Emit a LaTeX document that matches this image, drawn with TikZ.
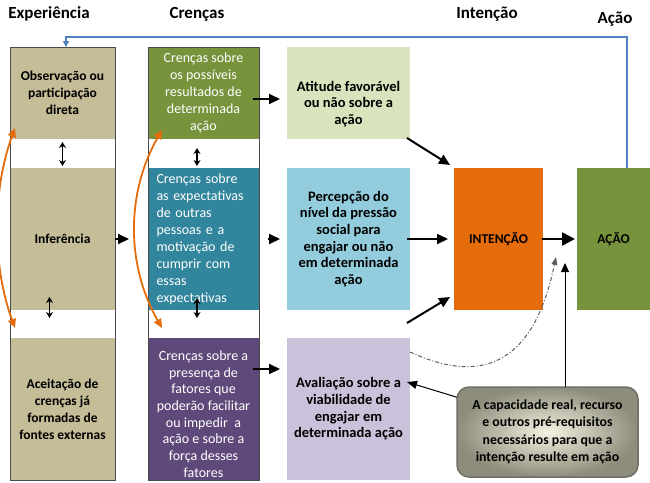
\documentclass[tikz,border=0pt]{standalone}
\usepackage{fontspec}
\setmainfont{Carlito}
\usetikzlibrary{arrows.meta,calc}
\definecolor{ctan}{HTML}{C4BD97}
\definecolor{cgreen}{HTML}{77933C}
\definecolor{cteal}{HTML}{31859C}
\definecolor{cpurple}{HTML}{5F497A}
\definecolor{clgreen}{HTML}{D7E4BD}
\definecolor{clblue}{HTML}{93CDDD}
\definecolor{clav}{HTML}{CCC1DA}
\definecolor{corange}{HTML}{E46C0A}
\definecolor{cblue}{HTML}{4F81BD}
\definecolor{cborder}{HTML}{4A4A4A}
\definecolor{ccream}{HTML}{F4F2E0}
\definecolor{cgrayout}{HTML}{8E8D7C}
\definecolor{cgrayb}{HTML}{6F6F66}
\definecolor{cdash}{HTML}{606060}
\begin{document}
\begin{tikzpicture}[x=1pt,y=-1pt,
  box/.style={inner sep=0pt, outer sep=0pt, align=center},
  fA/.style={font=\fontsize{13.5}{17}\selectfont\bfseries},
  fB/.style={font=\fontsize{14}{17}\selectfont, text=white},
  fC/.style={font=\fontsize{14.5}{16.7}\selectfont\bfseries},
  hdr/.style={font=\fontsize{17}{20}\selectfont\bfseries, inner sep=0pt, anchor=base},
  outline/.style={draw=cborder, line width=0.8pt, inner sep=0pt},
  arr/.style={line width=2pt, -{Triangle[length=11pt,width=10pt]}},
  dblarr/.style={line width=1.6pt, {Stealth[length=6pt,width=7pt]}-{Stealth[length=6pt,width=7pt]}},
  orgarr/.style={line width=1.8pt, draw=corange, {Triangle[length=9pt,width=8pt]}-{Triangle[length=9pt,width=8pt]}, color=corange},
]
\useasboundingbox (0,0) rectangle (650,482);
\clip (0,0) rectangle (650,482);

% headers
\node[hdr] (hexp) at (49,18) {Experiência};
\node[hdr] (hcre) at (197,18) {Crenças};
\node[hdr] (hint) at (487,18) {Intenção};
\node[hdr] (hac) at (615,23) {Ação};

% column 1
\node[box, fill=ctan, minimum width=105pt, minimum height=92pt, fA] (obs) at (62.5,93) {Observação ou\\participação\\direta};
\node[box, fill=ctan, minimum width=105pt, minimum height=142pt, fA] (inf) at (62.5,239) {Inferência};
\node[box, fill=ctan, minimum width=105pt, minimum height=142pt, fA] (acc) at (62.5,409) {Aceitação de\\crenças já\\formadas de\\fontes externas};
\node[outline, minimum width=105pt, minimum height=433pt] (col1) at (62.5,263.5) {};

% column 2
\node[box, fill=cgreen, minimum width=111pt, minimum height=92pt, fB] (grn) at (203.5,93) {Crenças sobre\\os possíveis\\resultados de\\determinada\\ação};
\node[box, fill=cteal, minimum width=111pt, minimum height=142pt, fB, align=left, text width=94pt] (teal) at (203.5,239) {Crenças sobre\\as expectativas\\de outras\\pessoas e a\\motivação de\\cumprir com\\essas\\expectativas};
\node[box, fill=cpurple, minimum width=111pt, minimum height=142pt] (purp) at (203.5,409) {};
\node[box, fB, font=\fontsize{14}{16.7}\selectfont] (purpT) at (203.5,414) {Crenças sobre a\\presença de\\fatores que\\poderão facilitar\\ou impedir\ \ a\\ação e sobre a\\força desses\\fatores};
\node[outline, minimum width=111pt, minimum height=433pt] (col2) at (203.5,263.5) {};

% column 3
\node[box, fill=clgreen, minimum width=123pt, minimum height=92pt] (atit) at (348.5,93) {};
\node[box, fC] (atitT) at (348.5,104) {Atitude favorável\\ou não sobre a\\ação};
\node[box, fill=clblue, minimum width=123pt, minimum height=142pt, fC] (perc) at (348.5,239) {Percepção do\\nível da pressão\\social para\\engajar ou não\\em determinada\\ação};
\node[box, fill=clav, minimum width=123pt, minimum height=142pt, fC] (aval) at (348.5,409) {Avaliação sobre a\\viabilidade de\\engajar em\\determinada ação};

% intention and action
\node[box, fill=corange, minimum width=89pt, minimum height=142pt, font=\fontsize{13.5}{16}\selectfont\bfseries] (int) at (498.5,239) {INTENÇÃO};
\node[box, fill=cgreen, minimum width=73pt, minimum height=142pt, font=\fontsize{13.5}{16}\selectfont\bfseries] (acao) at (613.5,239) {AÇÃO};

% capacity box
\node[box, draw=cgrayb, line width=1.5pt, rounded corners=12pt, inner color=ccream, outer color=cgrayout, minimum width=181pt, minimum height=90pt, font=\fontsize{13.8}{17.5}\selectfont\bfseries] (cap) at (547.5,432) {A capacidade real, recurso\\e outros pré-requisitos\\necessários para que a\\intenção resulte em ação};

% blue feedback line
\coordinate (bluetop) at (627,37);
\coordinate (blueleft) at (66,37);
\draw[cblue, line width=1.5pt, -{Triangle[length=6pt,width=6pt]}] ([xshift=13.5pt]acao.north) -- (bluetop) -- (blueleft) -- ([xshift=3.5pt]obs.north);

% double arrows
\draw[dblarr] ([yshift=-3pt]obs.south) -- ([yshift=2pt]inf.north);
\draw[dblarr] ([shift={(-13pt,13pt)}]inf.south) -- ([shift={(-13pt,20pt)}]acc.north);
\draw[dblarr] ([shift={(-6.5pt,-9pt)}]grn.south) -- ([shift={(-6.5pt,2pt)}]teal.north);
\draw[dblarr] ([shift={(-6.5pt,12pt)}]teal.south) -- ([shift={(-6.5pt,20pt)}]purp.north);

% black arrows
\draw[arr] (inf.east) -- ([xshift=-19pt]teal.west);
\draw[arr] ([shift={(-6pt,-6pt)}]grn.east) -- ([shift={(-7pt,-6pt)}]atit.west);
\draw[arr] ([xshift=9pt]teal.east) -- ([xshift=-7pt]perc.west);
\draw[arr] ([shift={(-6pt,40pt)}]purp.east) -- ([shift={(-7pt,40pt)}]aval.west);

\draw[arr] ([shift={(-3pt,1pt)}]atit.south east) -- ([shift={(-4pt,3pt)}]int.north west);
\draw[arr] ([xshift=-3pt]perc.east) -- ([xshift=-6pt]int.west);
\draw[arr] ([shift={(-3pt,15pt)}]aval.north east) -- ([shift={(-4pt,13pt)}]int.south west);
\draw[line width=2.6pt, -{Triangle[length=13pt,width=13pt]}] ([xshift=-1pt]int.east) -- ([xshift=-2pt]acao.west);

% orange curved arrows
\draw[orgarr] ([shift={(5pt,10pt)}]acc.north west) .. controls (-8,265) and (-8,191) .. ([shift={(5pt,11pt)}]obs.south west);
\draw[orgarr] ([shift={(14pt,10pt)}]purp.north west) .. controls (126,265) and (126,193) .. ([shift={(14pt,9pt)}]grn.south west);

% capacity connectors
\coordinate (dashend) at (556,257);
\coordinate (capin) at (565,263);
\draw[cdash, line width=1pt, dash pattern=on 4pt off 2pt on 1pt off 2pt, -{Triangle[length=8pt,width=6pt]}] ([yshift=57pt]aval.east) .. controls (475,382) and (532,372) .. (dashend);
\draw[line width=1pt, -{Triangle[length=9pt,width=8pt]}] (cap.north -| capin) -- (capin);
\draw[line width=1pt, -{Triangle[length=10pt,width=8pt]}] (cap.159) -- ([shift={(-3pt,27pt)}]aval.east);
\end{tikzpicture}
\end{document}
